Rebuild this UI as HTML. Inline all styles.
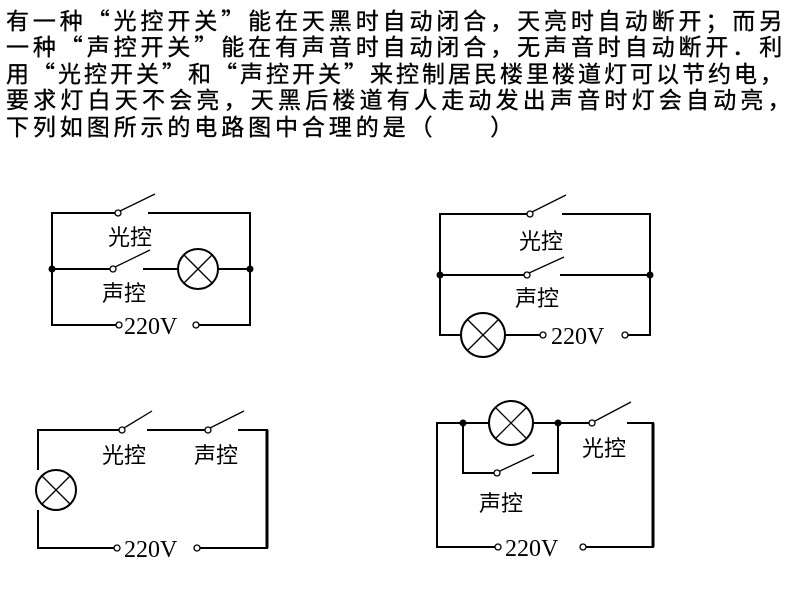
<!DOCTYPE html>
<html><head><meta charset="utf-8"><style>
body{margin:0;width:800px;height:600px;background:#fff;position:relative;overflow:hidden}
.t{position:absolute;left:6px;font:23px/23px "Noto Sans CJK SC",sans-serif;letter-spacing:3.9px;color:#000;white-space:nowrap;-webkit-text-stroke:0.35px #000}
svg{position:absolute;left:0;top:0}
</style></head><body>
<div class="t" style="top:8px">有一种“光控开关”能在天黑时自动闭合，天亮时自动断开；而另</div>
<div class="t" style="top:34px">一种“声控开关”能在有声音时自动闭合，无声音时自动断开．利</div>
<div class="t" style="top:61px;letter-spacing:3px">用“光控开关”和“声控开关”来控制居民楼里楼道灯可以节约电，</div>
<div class="t" style="top:87px;letter-spacing:4.2px">要求灯白天不会亮，天黑后楼道有人走动发出声音时灯会自动亮，</div>
<div class="t" style="top:114px">下列如图所示的电路图中合理的是（　　）</div>
<svg width="800" height="600" viewBox="0 0 800 600">
<g stroke="#000" stroke-width="2" fill="none">
<!-- A -->
<polyline points="115,213 52,213 52,325 116,325"/>
<polyline points="148,213 250,213 250,325 199,325"/>
<line x1="52" y1="269" x2="110" y2="269"/>
<line x1="143" y1="269" x2="178" y2="269"/>
<line x1="218" y1="269" x2="250" y2="269"/>
<circle cx="198" cy="269" r="20"/>
<line x1="184" y1="255" x2="212" y2="283" stroke-width="1.3"/><line x1="212" y1="255" x2="184" y2="283" stroke-width="1.3"/>
<line x1="120" y1="211" x2="155" y2="194" stroke-width="1.3"/>
<line x1="115" y1="267" x2="150" y2="250" stroke-width="1.3"/>
<!-- B -->
<polyline points="527,214 440,214 440,335 461,335"/>
<polyline points="562,214 650,214 650,335 628,335"/>
<line x1="505" y1="335" x2="540" y2="335"/>
<line x1="440" y1="275" x2="524" y2="275"/>
<line x1="560" y1="275" x2="650" y2="275"/>
<circle cx="483" cy="335" r="22"/>
<line x1="468" y1="320" x2="498" y2="350" stroke-width="1.3"/><line x1="498" y1="320" x2="468" y2="350" stroke-width="1.3"/>
<line x1="532" y1="212" x2="566" y2="195" stroke-width="1.3"/>
<line x1="529" y1="273" x2="564" y2="257" stroke-width="1.3"/>
<!-- C -->
<polyline points="119,430 38,430 38,470"/>
<polyline points="38,510 38,548 114,548"/>
<line x1="147" y1="430" x2="205" y2="430"/>
<polyline points="238,430 267,430 267,548 200,548"/>
<line x1="267" y1="430" x2="267" y2="548" stroke-width="3"/>
<circle cx="56" cy="490" r="20"/>
<line x1="42" y1="476" x2="70" y2="504" stroke-width="1.3"/><line x1="70" y1="476" x2="42" y2="504" stroke-width="1.3"/>
<line x1="124" y1="428" x2="152" y2="411" stroke-width="1.3"/>
<line x1="210" y1="428" x2="244" y2="411" stroke-width="1.3"/>
<!-- D -->
<polyline points="489,423 437,423 437,547 495,547"/>
<line x1="533" y1="423" x2="589" y2="423"/>
<polyline points="627,423 653,423 653,547 586,547"/>
<line x1="653" y1="423" x2="653" y2="547" stroke-width="3"/>
<polyline points="463,423 463,473 494,473"/>
<polyline points="532,473 558,473 558,423"/>
<circle cx="511" cy="423" r="22"/>
<line x1="496" y1="408" x2="526" y2="438" stroke-width="1.3"/><line x1="526" y1="408" x2="496" y2="438" stroke-width="1.3"/>
<line x1="595" y1="421" x2="631" y2="402" stroke-width="1.3"/>
<line x1="500" y1="471" x2="534" y2="455" stroke-width="1.3"/>
</g>
<g fill="#fff" stroke="#000" stroke-width="1.3">
<circle cx="118" cy="213" r="3"/><circle cx="113" cy="269" r="3"/><circle cx="119" cy="325" r="3"/><circle cx="196" cy="325" r="3"/>
<circle cx="530" cy="214" r="3"/><circle cx="527" cy="275" r="3"/><circle cx="543" cy="335" r="3"/><circle cx="625" cy="335" r="3"/>
<circle cx="122" cy="430" r="3"/><circle cx="208" cy="430" r="3"/><circle cx="117" cy="548" r="3"/><circle cx="197" cy="548" r="3"/>
<circle cx="592" cy="423" r="3"/><circle cx="497" cy="473" r="3"/><circle cx="498" cy="547" r="3"/><circle cx="583" cy="547" r="3"/>
</g>
<g fill="#000">
<circle cx="52" cy="269" r="3.5"/><circle cx="250" cy="269" r="3.5"/>
<circle cx="440" cy="275" r="3.5"/><circle cx="650" cy="275" r="3.5"/>
<circle cx="463" cy="423" r="3.5"/><circle cx="558" cy="423" r="3.5"/>
</g>
<g font-family="Liberation Sans,Noto Sans CJK SC,sans-serif" font-size="22" fill="#000">
<text x="108" y="245">光控</text><text x="102" y="301">声控</text>
<text x="519" y="249">光控</text><text x="515" y="306">声控</text>
<text x="102" y="463">光控</text><text x="194" y="463">声控</text>
<text x="582" y="456">光控</text><text x="479" y="511">声控</text>
</g>
<g font-family="Liberation Serif,serif" font-size="24" fill="#000">
<text x="124" y="334">220V</text>
<text x="551" y="344">220V</text>
<text x="124" y="557">220V</text>
<text x="505" y="556">220V</text>
</g>
</svg>
</body></html>
